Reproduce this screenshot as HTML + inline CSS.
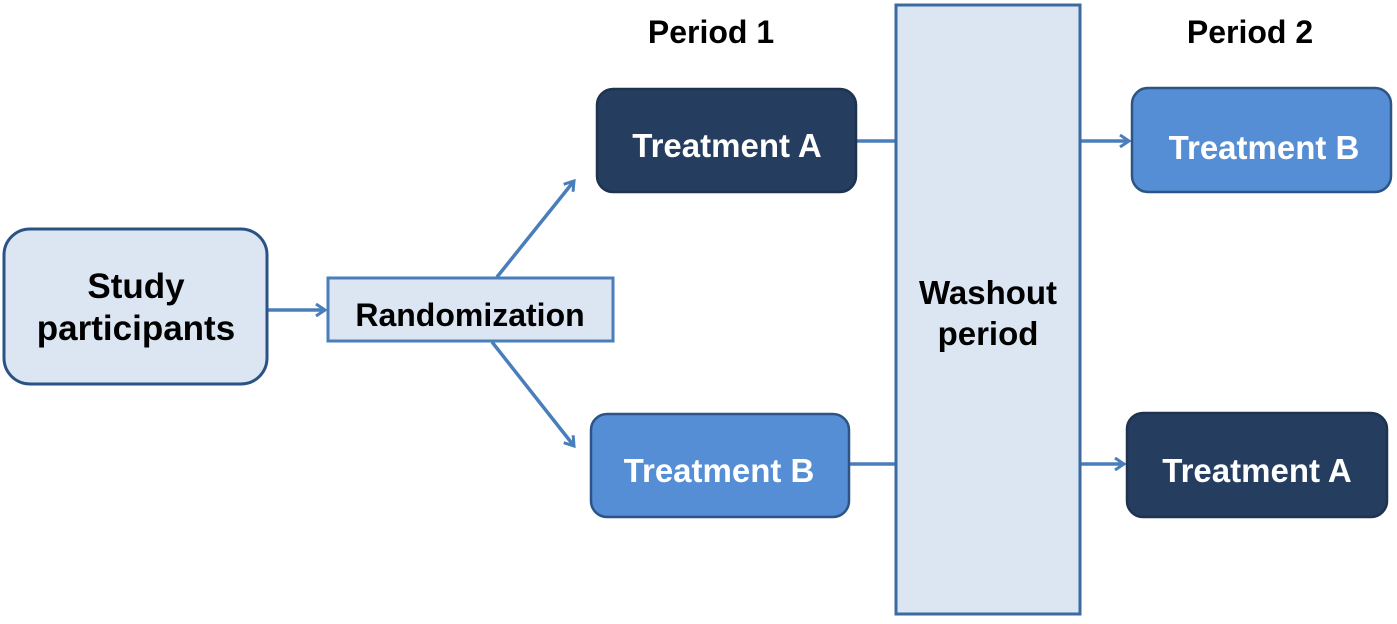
<!DOCTYPE html>
<html><head><style>
body{margin:0;background:#fff;width:1397px;height:619px;overflow:hidden;font-family:"Liberation Sans",Arial,sans-serif;}
</style></head><body>
<svg width="1397" height="619" xmlns="http://www.w3.org/2000/svg" font-family="Liberation Sans, Arial, sans-serif" font-weight="bold">
<defs><marker id="a" markerWidth="14" markerHeight="14" refX="11" refY="7" orient="auto" markerUnits="userSpaceOnUse"><path d="M2,1 L11,7 L2,13" fill="none" stroke="#4a7ebb" stroke-width="3"/></marker></defs>
<g stroke="#4a7ebb" stroke-width="3.5" fill="none">
<line x1="268" y1="310" x2="325" y2="310" marker-end="url(#a)"/>
<line x1="497" y1="277" x2="574" y2="181" marker-end="url(#a)"/>
<line x1="492" y1="342" x2="574" y2="446" marker-end="url(#a)"/>
<line x1="857" y1="141" x2="896" y2="141"/>
<line x1="850" y1="464" x2="896" y2="464"/>
<line x1="1080" y1="141" x2="1129" y2="141" marker-end="url(#a)"/>
<line x1="1080" y1="464" x2="1124" y2="464" marker-end="url(#a)"/>
</g>
<rect x="4" y="229" width="263" height="155" rx="26" fill="#dce6f2" stroke="#2a5286" stroke-width="3"/>
<rect x="328" y="278" width="285" height="63" fill="#dce6f2" stroke="#4a7ebb" stroke-width="3"/>
<rect x="597" y="89" width="259" height="103" rx="16" fill="#253d5f" stroke="#1f3350" stroke-width="2.5"/>
<rect x="591" y="414" width="258" height="103" rx="16" fill="#558ed5" stroke="#2d5487" stroke-width="2.5"/>
<rect x="896" y="5" width="184" height="609" fill="#dce6f2" stroke="#3b6aa0" stroke-width="3"/>
<rect x="1132" y="88" width="259" height="104" rx="16" fill="#558ed5" stroke="#2d5487" stroke-width="2.5"/>
<rect x="1127" y="413" width="260" height="104" rx="16" fill="#253d5f" stroke="#1f3350" stroke-width="2.5"/>
<g text-anchor="middle" fill="#000">
<text x="136" y="298" font-size="35">Study</text>
<text x="136" y="340" font-size="35">participants</text>
<text x="470" y="326" font-size="32">Randomization</text>
<text x="711" y="43" font-size="32">Period 1</text>
<text x="1250" y="43" font-size="32">Period 2</text>
<text x="988" y="304" font-size="33">Washout</text>
<text x="988" y="345" font-size="33">period</text>
</g>
<g text-anchor="middle" font-size="33" fill="#fff">
<text x="727" y="157">Treatment A</text>
<text x="719" y="482">Treatment B</text>
<text x="1264" y="159">Treatment B</text>
<text x="1257" y="482">Treatment A</text>
</g>
</svg>
</body></html>
